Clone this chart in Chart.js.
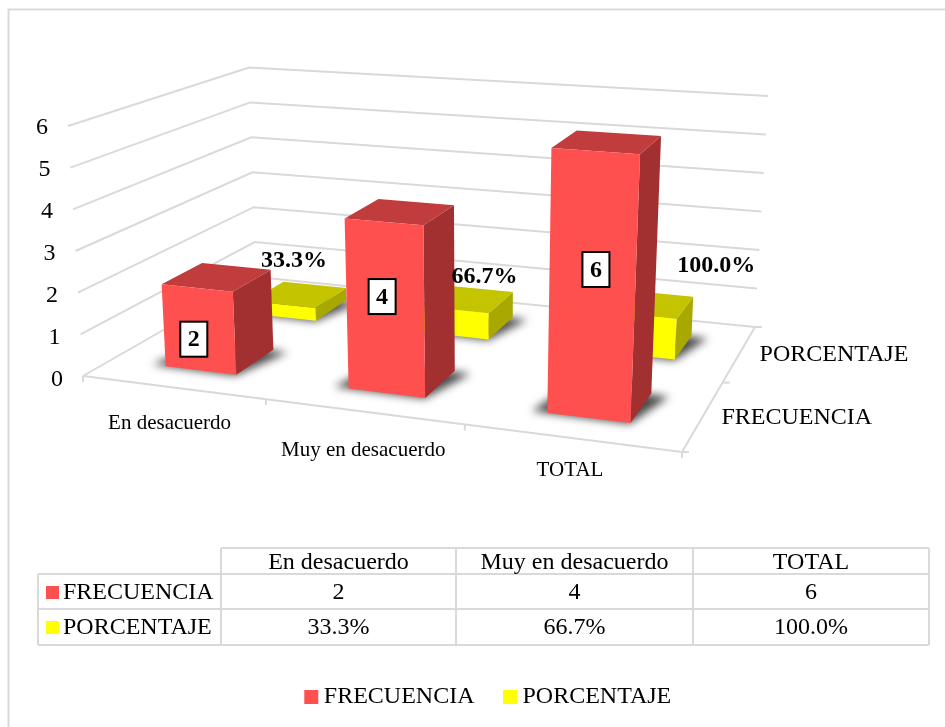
<!DOCTYPE html>
<html>
<head>
<meta charset="utf-8">
<title>Frecuencia y porcentaje</title>
<script src="https://cdn.jsdelivr.net/npm/chart.js@4/dist/chart.umd.min.js"></script>
<style>
  html, body { margin: 0; padding: 0; background: #fff; overflow: hidden; }
  #wrap { position: absolute; left: 0; top: 0; width: 945px; height: 727px; }
</style>
</head>
<body>
<div id="wrap"><canvas id="chart" width="945" height="727"></canvas></div>
<script>
const categories = ['En desacuerdo', 'Muy en desacuerdo', 'TOTAL'];
const seriesNames = ['FRECUENCIA', 'PORCENTAJE'];
const frecuencia = [2, 4, 6];
const porcentaje = [0.333, 0.667, 1];
const porcentajeText = ['33.3%', '66.7%', '100.0%'];
const yTicks = [0, 1, 2, 3, 4, 5, 6];

const FONT = '"Liberation Serif", "Times New Roman", serif';
const GRID = '#d9d9d9';
const colors = [
  { front: '#ff5050', top: '#c13c3c', side: '#a33030' },
  { front: '#ffff00', top: '#c4c400', side: '#a8a800' }
];

// corners of the floor and of the value 6 plane, order: front-left, front-right, back-right, back-left
const floorQuad = [[83, 376], [682, 452], [755, 327], [256, 277]];
const ceilQuad = [[68, 126], [696, 172], [768, 96], [249, 67.5]];
const barDepth = 0.22;
const barNudge = 0.003;

// pixel nudges for the labels, relative to the spot they belong to
const catLabelShift = [[-3, 36], [0, 39], [-1, 33]];
const depthLabelShift = [[18, 2], [20, 1]];
const boxLabelShift = [[-5, 10], [-3, -11], [4, -15]];
const pctLabelShift = [[11, -44], [31, -33], [78, -49]];

function squareToQuad(q) {
  const [x0, y0] = q[0], [x1, y1] = q[1], [x2, y2] = q[2], [x3, y3] = q[3];
  const dx1 = x1 - x2, dx2 = x3 - x2, dx3 = x0 - x1 + x2 - x3;
  const dy1 = y1 - y2, dy2 = y3 - y2, dy3 = y0 - y1 + y2 - y3;
  const den = dx1 * dy2 - dx2 * dy1;
  const g = (dx3 * dy2 - dx2 * dy3) / den;
  const h = (dx1 * dy3 - dx3 * dy1) / den;
  const a = x1 - x0 + g * x1, b = x3 - x0 + h * x3;
  const d = y1 - y0 + g * y1, e = y3 - y0 + h * y3;
  return (u, v) => {
    const w = g * u + h * v + 1;
    return [(a * u + b * v + x0) / w, (d * u + e * v + y0) / w];
  };
}
const floorMap = squareToQuad(floorQuad);
const ceilMap = squareToQuad(ceilQuad);

// u along the categories, v into the depth, t = height as a share of the y axis
function project(u, v, t) {
  const f = floorMap(u, v), c = ceilMap(u, v);
  return [f[0] + (c[0] - f[0]) * t, f[1] + (c[1] - f[1]) * t];
}

function poly(ctx, pts, fill) {
  ctx.beginPath();
  pts.forEach((p, i) => i ? ctx.lineTo(p[0], p[1]) : ctx.moveTo(p[0], p[1]));
  ctx.closePath();
  ctx.fillStyle = fill;
  ctx.fill();
}

function line(ctx, a, b) {
  ctx.beginPath();
  ctx.moveTo(a[0], a[1]);
  ctx.lineTo(b[0], b[1]);
  ctx.stroke();
}

function text(ctx, str, x, y, font, align) {
  ctx.font = font;
  ctx.fillStyle = '#000';
  ctx.textAlign = align || 'center';
  ctx.textBaseline = 'middle';
  ctx.fillText(str, x, y);
}

function drawWalls(chart) {
  const ctx = chart.ctx;
  const yScale = chart.scales.y;
  ctx.strokeStyle = GRID;
  ctx.lineWidth = 2;
  yScale.ticks.forEach((tick, i) => {
    const t = (yScale.bottom - yScale.getPixelForTick(i)) / yScale.height;
    const fl = project(0, 0, t), bl = project(0, 1, t), br = project(1, 1, t);
    ctx.beginPath();
    ctx.moveTo(fl[0], fl[1]);
    ctx.lineTo(bl[0], bl[1]);
    ctx.lineTo(br[0], br[1]);
    ctx.stroke();
    text(ctx, String(tick.value), fl[0] - 26, yScale.getPixelForTick(i) + 1, '24px ' + FONT);
  });

  // floor edges and the small tick marks
  line(ctx, project(0, 0, 0), project(1, 0, 0));
  line(ctx, project(1, 0, 0), project(1, 1, 0));
  const xScale = chart.scales.x;
  for (let i = 0; i <= categories.length; i++) {
    const p = project(i / categories.length, 0, 0);
    line(ctx, p, [p[0], p[1] + 6]);
  }
  for (let i = 0; i <= seriesNames.length; i++) {
    const p = project(1, i / seriesNames.length, 0);
    line(ctx, p, [p[0] + 7, p[1]]);
  }

  ctx.fillStyle = '#000';
  categories.forEach((name, i) => {
    const u = (xScale.getPixelForTick(i) - xScale.left) / xScale.width;
    const p = project(u, 0, 0);
    text(ctx, name, p[0] + catLabelShift[i][0], p[1] + catLabelShift[i][1], '21px ' + FONT);
  });
  seriesNames.forEach((name, i) => {
    const p = project(1, (i + 0.5) / seriesNames.length, 0);
    text(ctx, name, p[0] + depthLabelShift[i][0], p[1] + depthLabelShift[i][1], '24px ' + FONT, 'left');
  });
}

function barBox(chart, dsIndex, i) {
  const el = chart.getDatasetMeta(dsIndex).data[i];
  const xScale = chart.scales.x, yScale = chart.scales.y;
  const vMid = (dsIndex + 0.5) / seriesNames.length;
  return {
    u0: (el.x - el.width / 2 - xScale.left) / xScale.width + barNudge,
    u1: (el.x + el.width / 2 - xScale.left) / xScale.width + barNudge,
    v0: vMid - barDepth / 2,
    v1: vMid + barDepth / 2,
    t: (yScale.bottom - el.y) / yScale.height
  };
}

function drawBar(chart, dsIndex, i) {
  const ctx = chart.ctx;
  const b = barBox(chart, dsIndex, i);
  const c = colors[dsIndex];

  // soft shadow on the floor
  ctx.save();
  ctx.filter = 'blur(4px)';
  poly(ctx, [
    project(b.u0 - 0.025, b.v0, 0), project(b.u1, b.v0 - 0.005, 0),
    project(b.u1 + 0.03, b.v1 - 0.01, 0), project(b.u0, b.v1, 0)
  ], '#4a4a4a');
  ctx.restore();

  poly(ctx, [project(b.u1, b.v0, 0), project(b.u1, b.v1, 0), project(b.u1, b.v1, b.t), project(b.u1, b.v0, b.t)], c.side);
  poly(ctx, [project(b.u0, b.v0, b.t), project(b.u1, b.v0, b.t), project(b.u1, b.v1, b.t), project(b.u0, b.v1, b.t)], c.top);
  poly(ctx, [project(b.u0, b.v0, 0), project(b.u1, b.v0, 0), project(b.u1, b.v0, b.t), project(b.u0, b.v0, b.t)], c.front);
}

function drawValueLabels(chart) {
  const ctx = chart.ctx;
  frecuencia.forEach((val, i) => {
    const b = barBox(chart, 0, i);
    const p = project((b.u0 + b.u1) / 2, b.v0, b.t / 2);
    const x = p[0] + boxLabelShift[i][0], y = p[1] + boxLabelShift[i][1];
    ctx.fillStyle = '#fff';
    ctx.fillRect(x - 13.5, y - 17.5, 27, 35);
    ctx.strokeStyle = '#000';
    ctx.lineWidth = 2;
    ctx.strokeRect(x - 13.5, y - 17.5, 27, 35);
    text(ctx, String(val), x, y + 1, 'bold 24px ' + FONT);
  });
  porcentaje.forEach((val, i) => {
    const b = barBox(chart, 1, i);
    const p = project((b.u0 + b.u1) / 2, b.v0, b.t);
    text(ctx, porcentajeText[i], p[0] + pctLabelShift[i][0], p[1] + pctLabelShift[i][1], 'bold 24px ' + FONT);
  });
}

function drawTable(chart) {
  const ctx = chart.ctx;
  const cols = [38, 221, 456, 693, 929];
  const rows = [548, 574, 609, 645];
  const rowMid = [563, 593, 628];
  const font = '24px ' + FONT;

  ctx.strokeStyle = GRID;
  ctx.lineWidth = 2;
  line(ctx, [cols[1], rows[0]], [cols[4], rows[0]]);
  rows.slice(1).forEach(y => line(ctx, [cols[0], y], [cols[4], y]));
  cols.forEach((x, i) => line(ctx, [x, i === 0 ? rows[1] : rows[0]], [x, rows[3]]));

  categories.forEach((name, i) => {
    const mid = (cols[i + 1] + cols[i + 2]) / 2;
    text(ctx, name, mid, rowMid[0], font);
    text(ctx, String(frecuencia[i]), mid, rowMid[1], font);
    text(ctx, porcentajeText[i], mid, rowMid[2], font);
  });
  seriesNames.forEach((name, i) => {
    ctx.fillStyle = colors[i].front;
    ctx.fillRect(46, rowMid[i + 1] - 7, 13, 13);
    text(ctx, name, 63, rowMid[i + 1], font, 'left');
  });
}

const scene3d = {
  id: 'scene3d',
  beforeDatasetsDraw(chart) {
    const ctx = chart.ctx;
    ctx.save();
    // chart frame, cut off by the page on the right and at the bottom
    ctx.strokeStyle = GRID;
    ctx.lineWidth = 2;
    ctx.beginPath();
    ctx.moveTo(8.5, 727);
    ctx.lineTo(8.5, 9.5);
    ctx.lineTo(945, 9.5);
    ctx.stroke();

    drawWalls(chart);
    categories.forEach((_, i) => drawBar(chart, 1, i));
    categories.forEach((_, i) => drawBar(chart, 0, i));
    drawValueLabels(chart);
    drawTable(chart);
    ctx.restore();
    return false; // the flat bars are not painted, only their 3D version
  }
};

new Chart(document.getElementById('chart'), {
  type: 'bar',
  data: {
    labels: categories,
    datasets: [
      { label: seriesNames[0], data: frecuencia, backgroundColor: colors[0].front, grouped: false, barPercentage: 0.395, categoryPercentage: 1 },
      { label: seriesNames[1], data: porcentaje, backgroundColor: colors[1].front, grouped: false, barPercentage: 0.395, categoryPercentage: 1 }
    ]
  },
  options: {
    responsive: false,
    animation: false,
    layout: { padding: { left: 37, top: 127, right: 0, bottom: 8 } },
    plugins: {
      tooltip: { enabled: false },
      legend: {
        position: 'bottom',
        labels: {
          font: { family: FONT, size: 24 },
          color: '#000',
          usePointStyle: true,
          pointStyle: 'rect',
          boxWidth: 1,
          boxHeight: 14,
          padding: 35
        }
      }
    },
    scales: {
      x: {
        grid: { display: false },
        border: { display: false },
        ticks: { display: false },
        afterFit(scale) { scale.height = 271; }
      },
      y: {
        min: 0,
        max: 6,
        afterBuildTicks(scale) { scale.ticks = yTicks.map(v => ({ value: v })); },
        grid: { display: false },
        border: { display: false },
        ticks: { display: false }
      }
    }
  },
  plugins: [scene3d]
});
</script>
</body>
</html>
